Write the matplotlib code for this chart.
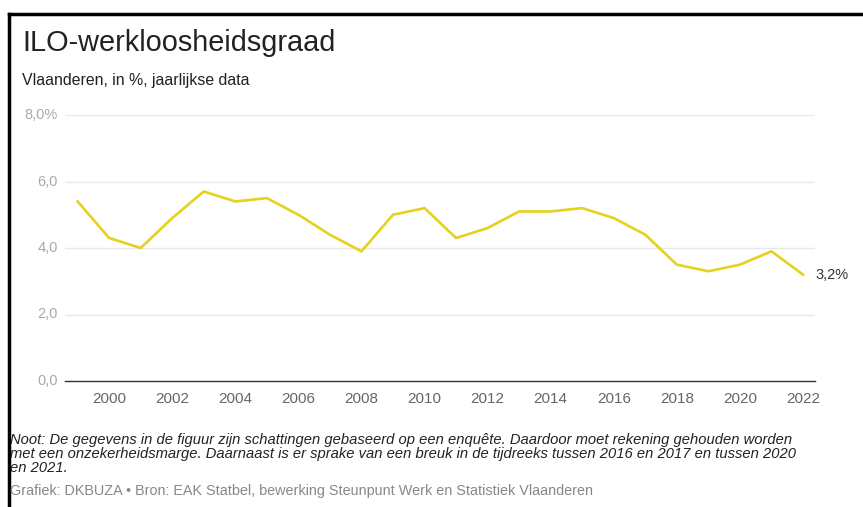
import matplotlib
matplotlib.use('Agg')
import matplotlib.pyplot as plt
from matplotlib.lines import Line2D
from matplotlib.transforms import blended_transform_factory

plt.rcParams['font.family'] = ['Liberation Sans', 'DejaVu Sans']

years = list(range(1999, 2023))
rate = [5.4, 4.3, 4.0, 4.9, 5.7, 5.4, 5.5, 5.0, 4.4, 3.9, 5.0, 5.2,
        4.3, 4.6, 5.1, 5.1, 5.2, 4.9, 4.4, 3.5, 3.3, 3.5, 3.9, 3.2]
xticks = list(range(2000, 2023, 2))
yticks = [0, 2, 4, 6, 8]
ylabels = ['0,0', '2,0', '4,0', '6,0', '8,0%']

title = 'ILO-werkloosheidsgraad'
subtitle = 'Vlaanderen, in %, jaarlijkse data'
note_lines = [
    'Noot: De gegevens in de figuur zijn schattingen gebaseerd op een enquête. Daardoor moet rekening gehouden worden',
    'met een onzekerheidsmarge. Daarnaast is er sprake van een breuk in de tijdreeks tussen 2016 en 2017 en tussen 2020',
    'en 2021.',
]
source = 'Grafiek: DKBUZA • Bron: EAK Statbel, bewerking Steunpunt Werk en Statistiek Vlaanderen'

W, H = 863, 507
fig = plt.figure(figsize=(W / 100, H / 100), dpi=100)
ax = fig.add_axes([65 / W, 1 - 381 / H, (815 - 65) / W, (381 - 115) / H])

ax.plot(years, rate, color='#e6d11e', lw=1.9, solid_joinstyle='miter', zorder=3)
last = f'{rate[-1]:.1f}'.replace('.', ',') + '%'
ax.text(years[-1] + 0.4, rate[-1], last, va='center', ha='left', fontsize=10.5, color='#333333')

ax.set_xlim(1998.6, 2022.38)
ax.set_ylim(0, 8)
ax.set_yticks(yticks)
ax.set_yticklabels([])
lab_tr = blended_transform_factory(fig.transFigure, ax.transData)
for v, lab in zip(yticks, ylabels):
    ax.text(58 / W, v, lab, transform=lab_tr, ha='right', va='center',
            fontsize=10.5, color='#aaaaaa')
ax.set_xticks(xticks)
ax.set_xticklabels([str(x) for x in xticks], fontsize=11, color='#666666')
ax.tick_params(axis='x', length=0, pad=8)
ax.tick_params(axis='y', length=0)
ax.grid(axis='y', color='#e8e8e8', lw=1)
ax.grid(axis='x', visible=False)
for s in ['top', 'right', 'left']:
    ax.spines[s].set_visible(False)
ax.spines['bottom'].set_color('#333333')
ax.spines['bottom'].set_linewidth(1)

fig.text(22 / W, 1 - 43 / H, title, fontsize=20.8, color='#222222', va='center')
fig.text(22 / W, 1 - 81 / H, subtitle, fontsize=11.4, color='#222222', va='center')
for i, line in enumerate(note_lines):
    fig.text(10 / W, 1 - (444 + 14 * i) / H, line, fontsize=10.6, style='italic',
             color='#222222', va='baseline')
fig.text(10 / W, 1 - 495 / H, source, fontsize=10.4, color='#888888', va='baseline')

fig.add_artist(Line2D([9 / W, 9 / W], [0, 1 - 14 / H], transform=fig.transFigure, color='black', lw=2.5))
fig.add_artist(Line2D([9 / W, 1], [1 - 14 / H, 1 - 14 / H], transform=fig.transFigure, color='black', lw=2.5))

fig.savefig('out.png', dpi=100)
